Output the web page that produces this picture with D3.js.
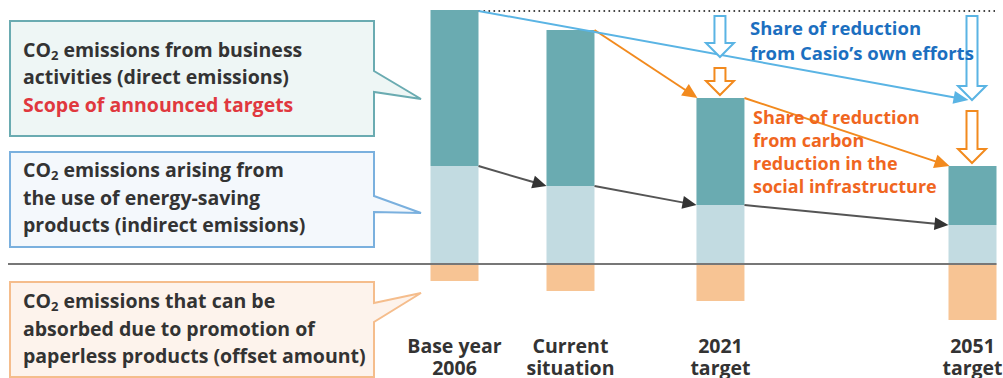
<!DOCTYPE html>
<html>
<head>
<meta charset="utf-8">
<script src="https://cdn.jsdelivr.net/npm/d3@7"></script>
<style>
  html, body { margin: 0; padding: 0; background: #ffffff; }
  svg { display: block; }
  text { font-family: "Open Sans", "Noto Sans", sans-serif; font-weight: 700; }
</style>
</head>
<body>
<svg id="chart" width="1003" height="378"></svg>
<script>
// ---- data (relative CO2 amounts, base-year total = 254) ----
const categories = [["Base year", "2006"], ["Current", "situation"], ["2021", "target"], ["2051", "target"]];
const directEmissions   = [156, 156, 107, 59];   // dark teal
const indirectEmissions = [98, 78, 59, 39];      // light blue
const offsetAmounts     = [17, 27, 37, 56];      // orange, below zero
const ownEffortLevels   = [null, null, 207, 164]; // level reached by Casio's own efforts
const slotPositions     = [0, 1, 2.293, 4.466];  // uneven time spacing of the columns

const box1Lines = [["CO", "2", " emissions from business"], ["activities (direct emissions)"], ["Scope of announced targets"]];
const box2Lines = [["CO", "2", " emissions arising from"], ["the use of energy-saving"], ["products (indirect emissions)"]];
const box3Lines = [["CO", "2", " emissions that can be"], ["absorbed due to promotion of"], ["paperless products (offset amount)"]];
const blueLabel = ["Share of reduction", "from Casio\u2019s own efforts"];
const orangeLabel = ["Share of reduction", "from carbon", "reduction in the", "social infrastructure"];

// ---- scales ----
const svg = d3.select("#chart");
const x = d3.scaleLinear().domain([0, 4.466]).range([454.5, 972.5]);
const y = d3.scaleLinear().domain([0, 254]).range([264, 10]);
const barW = 48;

const C = {
  dark: "#6aabb1", light: "#c2dbe1", offset: "#f7c494",
  blueLine: "#5ab4e4", orangeLine: "#f28a1e", gray: "#555555", head: "#333333",
  blueText: "#1c6fc0", orangeText: "#f0661f", text: "#333333", red: "#e0383e"
};

const totals = directEmissions.map((d, i) => d + indirectEmissions[i]);
const cx = i => x(slotPositions[i]);

// ---- bars ----
const g = svg.append("g");
g.selectAll("rect.ind").data(indirectEmissions).join("rect")
  .attr("x", (d, i) => cx(i) - barW / 2).attr("width", barW)
  .attr("y", d => y(d)).attr("height", d => y(0) - y(d)).attr("fill", C.light);
g.selectAll("rect.dir").data(directEmissions).join("rect")
  .attr("x", (d, i) => cx(i) - barW / 2).attr("width", barW)
  .attr("y", (d, i) => y(totals[i])).attr("height", (d, i) => y(indirectEmissions[i]) - y(totals[i]))
  .attr("fill", C.dark);
g.selectAll("rect.off").data(offsetAmounts).join("rect")
  .attr("x", (d, i) => cx(i) - barW / 2).attr("width", barW)
  .attr("y", y(0)).attr("height", d => y(0) - y(d)).attr("fill", C.offset);

// zero line
svg.append("line").attr("x1", 8).attr("x2", cx(3) + barW / 2).attr("y1", y(0)).attr("y2", y(0))
  .attr("stroke", "#777").attr("stroke-width", 2);

// dotted base-year level
svg.append("line").attr("x1", cx(0) + barW / 2).attr("x2", 995).attr("y1", y(totals[0]) + 1).attr("y2", y(totals[0]) + 1)
  .attr("stroke", "#444").attr("stroke-width", 2).attr("stroke-dasharray", "1.6,3.4");

// ---- arrows ----
function arrow(x1, y1, x2, y2, color, lineColor, L, W, sw) {
  const a = Math.atan2(y2 - y1, x2 - x1);
  const bx = x2 - L * Math.cos(a), by = y2 - L * Math.sin(a);
  svg.append("line").attr("x1", x1).attr("y1", y1).attr("x2", bx + Math.cos(a)).attr("y2", by + Math.sin(a))
    .attr("stroke", lineColor).attr("stroke-width", sw);
  const px = -Math.sin(a) * W / 2, py = Math.cos(a) * W / 2;
  svg.append("path").attr("d", `M${x2},${y2}L${bx + px},${by + py}L${bx - px},${by - py}Z`).attr("fill", color);
}
// dark arrows between indirect-emission levels
for (let i = 0; i < 3; i++) {
  arrow(cx(i) + barW / 2, y(indirectEmissions[i]), cx(i + 1) - barW / 2, y(indirectEmissions[i + 1]),
        C.head, C.gray, 14, 13, 2);
}
// orange arrows between bar tops
for (let i = 1; i < 3; i++) {
  arrow(cx(i) + barW / 2, y(totals[i]), cx(i + 1) - barW / 2 + 1, y(totals[i + 1]),
        C.orangeLine, C.orangeLine, 15, 14, 2);
}
// blue long arrow: base year top to own-effort level in 2051
arrow(cx(0) + barW / 2, y(totals[0]) + 1, cx(3) - 4, y(ownEffortLevels[3]),
      C.blueLine, C.blueLine, 15, 13, 2);

// hollow block arrows
function hollow(c, top, tip, color) {
  const sw = 5.5, hw = 14, hl = 14;
  svg.append("path")
    .attr("d", `M${c - sw},${top}L${c + sw},${top}L${c + sw},${tip - hl}L${c + hw},${tip - hl}L${c},${tip}L${c - hw},${tip - hl}L${c - sw},${tip - hl}Z`)
    .attr("fill", "#fff").attr("stroke", color).attr("stroke-width", 2).attr("stroke-linejoin", "miter");
}
[2, 3].forEach(i => {
  const c = cx(i) - 0.5;
  hollow(c, y(totals[0]) + 6, y(ownEffortLevels[i]), C.blueLine);
  hollow(c, y(ownEffortLevels[i]) + 11, y(totals[i]) - 3, C.orangeLine);
});

// ---- labels under bars ----
const lab = svg.append("g").attr("fill", C.text).attr("font-size", 19.5).attr("text-anchor", "middle");
categories.forEach((c, i) => {
  c.forEach((t, k) => lab.append("text").attr("x", cx(i)).attr("y", 353 + k * 22).text(t));
});

// ---- annotation texts ----
const bt = svg.append("g").attr("fill", C.blueText).attr("font-size", 18.5);
blueLabel.forEach((t, k) => bt.append("text").attr("x", 750).attr("y", 35 + k * 24.5).text(t));
const ot = svg.append("g").attr("fill", C.orangeText).attr("font-size", 18);
orangeLabel.forEach((t, k) => ot.append("text").attr("x", 753).attr("y", 124 + k * 23).text(t));

// ---- callout boxes ----
function callout(top, bottom, p1, tip, p2, fill, stroke, lines, base, step, colors) {
  const l = 10, r = 374;
  svg.append("path")
    .attr("d", `M${l},${top}L${r},${top}L${r},${p1}L${tip[0]},${tip[1]}L${r},${p2}L${r},${bottom}L${l},${bottom}Z`)
    .attr("fill", fill).attr("stroke", stroke).attr("stroke-width", 2);
  lines.forEach((parts, k) => {
    const t = svg.append("text").attr("x", 23).attr("y", base + k * step)
      .attr("font-size", 19.5).attr("fill", colors[k]);
    if (parts.length === 3) {
      t.append("tspan").text(parts[0]);
      t.append("tspan").attr("font-size", 13).attr("dy", 3).text(parts[1]);
      t.append("tspan").attr("dy", -3).text(parts[2]);
    } else {
      t.text(parts[0]);
    }
  });
}
callout(21, 136, 71, [421, 99], 92, "#eef6f5", "#6aabb1", box1Lines, 57, 27.3, [C.text, C.text, C.red]);
callout(152, 247, 196, [421, 213], 212, "#f4f8fc", "#7ab0de", box2Lines, 177, 27.5, [C.text, C.text, C.text]);
callout(282, 377, 303, [421, 293], 322, "#fdf3ec", "#f5bd8c", box3Lines, 308, 27.5, [C.text, C.text, C.text]);
</script>
</body>
</html>
